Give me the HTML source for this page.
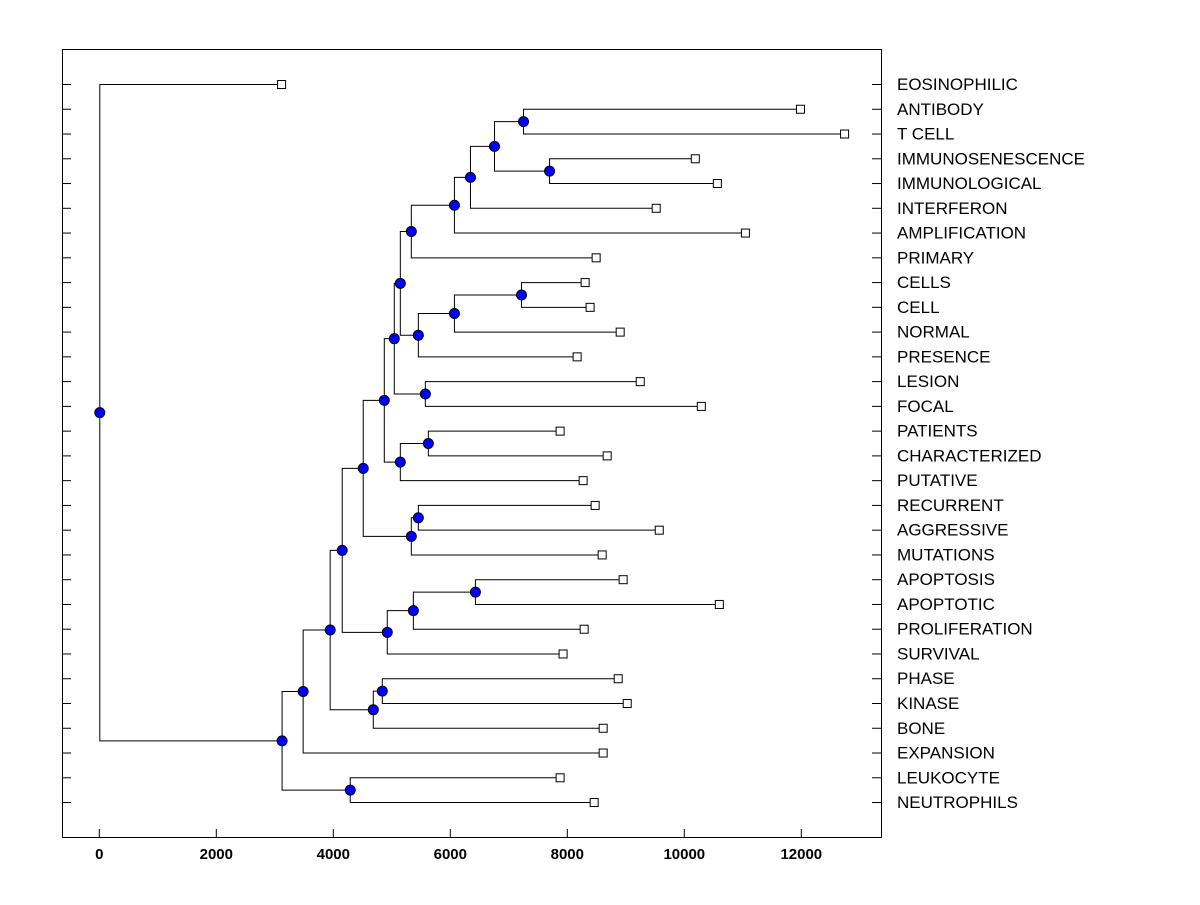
<!DOCTYPE html>
<html><head><meta charset="utf-8"><style>
body{margin:0;background:#fff}
svg text{font-family:"Liberation Sans",Arial,sans-serif;fill:#000}
</style></head><body>
<svg id="chart" width="1200" height="900" xmlns="http://www.w3.org/2000/svg">
<rect x="62.5" y="49.5" width="819" height="788" fill="none" stroke="#000" stroke-width="1"/>
<g id="g"></g>
</svg>
<script>
const labels=["EOSINOPHILIC","ANTIBODY","T CELL","IMMUNOSENESCENCE","IMMUNOLOGICAL","INTERFERON","AMPLIFICATION","PRIMARY","CELLS","CELL","NORMAL","PRESENCE","LESION","FOCAL","PATIENTS","CHARACTERIZED","PUTATIVE","RECURRENT","AGGRESSIVE","MUTATIONS","APOPTOSIS","APOPTOTIC","PROLIFERATION","SURVIVAL","PHASE","KINASE","BONE","EXPANSION","LEUKOCYTE","NEUTROPHILS"];
const leafValues=[3116,11986,12740,10188,10565,9520,11045,8493,8305,8390,8904,8168,9247,10291,7877,8682,8271,8476,9572,8596,8955,10599,8288,7928,8870,9024,8613,8613,7877,8459];
// merges: [childA, childB, height]; leaves are 0..29, internal nodes 30+
const mergeLeft=[1,3,30,32,33,34,8,36,37,12,35,14,41,40,17,44,43,20,47,48,46,24,51,50,53,28,54,56,0];
const mergeRight=[2,4,31,5,6,7,9,10,11,13,38,15,16,39,18,19,42,21,22,23,45,25,26,49,52,29,27,55,57];
const mergeHeights=[7243,7688,6747,6336,6062,5325,7209,6062,5445,5565,5137,5616,5137,5034,5445,5325,4863,6421,5360,4914,4503,4829,4675,4144,3938,4281,3476,3116,0];
const xTicks=[0,2000,4000,6000,8000,10000,12000];

const NS="http://www.w3.org/2000/svg";
const g=document.getElementById('g');
const X=v=>99.3+v*0.0585;
const Y=i=>84+i*24.76;
function el(t,a){const e=document.createElementNS(NS,t);for(const k in a)e.setAttribute(k,a[k]);g.appendChild(e);return e;}
xTicks.forEach(t=>{
  const l=el('line',{x1:X(t),x2:X(t),y1:829,y2:837,stroke:'#000'});
  
  
  const tx=el('text',{x:X(t),y:859,'text-anchor':'middle','font-size':'15','font-weight':'bold'});
  tx.textContent=t;
  
  
});
const nx=[],ny=[];
labels.forEach((lb,i)=>{
  nx[i]=X(leafValues[i]);ny[i]=Y(i);
  const a=el('line',{x1:62,x2:71,y1:Y(i)+0.5,y2:Y(i)+0.5,stroke:'#000'});
  
  
  const b=el('line',{x1:872,x2:881,y1:Y(i)+0.5,y2:Y(i)+0.5,stroke:'#000'});
  
  
  const t=el('text',{x:897,y:Y(i)+6,'font-size':'17'});
  t.textContent=lb;
  
  
});
mergeHeights.forEach((h,k)=>{
  const a=mergeLeft[k],b=mergeRight[k],id=30+k;
  nx[id]=X(h);ny[id]=(ny[a]+ny[b])/2;
  const p=el('path',{d:`M${nx[a]},${ny[a]+0.5}H${nx[id]+0.5}V${ny[b]+0.5}H${nx[b]}`,fill:'none',stroke:'#000','stroke-width':1});
  
  
});
labels.forEach((lb,i)=>{
  const r=el('rect',{x:nx[i]-4,y:ny[i]-3.5,width:8,height:8,fill:'#fff',stroke:'#000'});
  
  
});
mergeHeights.forEach((h,k)=>{
  const id=30+k;
  const c=el('circle',{cx:nx[id]+0.5,cy:ny[id]+0.5,r:5,fill:'#0000ff',stroke:'#000','stroke-width':1});
  
  
});
</script>
</body></html>
